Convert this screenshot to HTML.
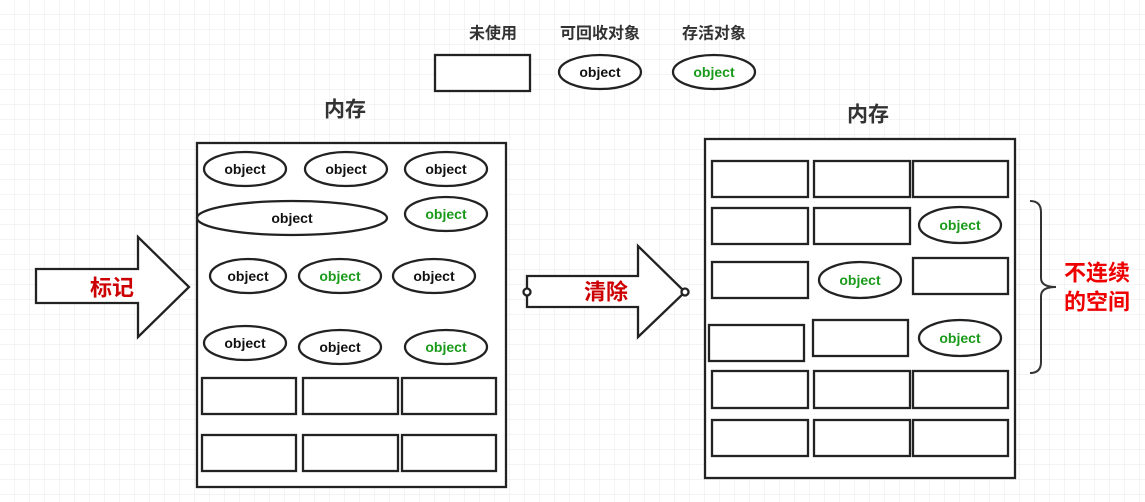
<!DOCTYPE html>
<html><head><meta charset="utf-8"><style>
html,body{margin:0;padding:0;background:#fff}
svg{display:block}
.o{font-family:"Liberation Sans",sans-serif;font-weight:bold;font-size:14px;text-anchor:middle;dominant-baseline:central}
.c{font-family:"Liberation Sans","Noto Sans CJK SC",sans-serif;font-weight:bold;text-anchor:middle;dominant-baseline:central}
</style></head><body>
<svg width="1145" height="502" xmlns="http://www.w3.org/2000/svg">
<defs><pattern id="g" width="15" height="15" patternUnits="userSpaceOnUse"><path d="M15 0V15H0" fill="none" stroke="#e9e9e9" stroke-width="1"/></pattern></defs>
<rect width="1145" height="502" fill="url(#g)"/>
<g fill="#fff" stroke="#222" stroke-width="2.3">
<rect x="435" y="55" width="95" height="36"/>
<ellipse cx="600" cy="72" rx="41" ry="17"/>
<ellipse cx="714" cy="72" rx="41" ry="17"/>
<rect x="197" y="143" width="309" height="344"/>
<ellipse cx="245" cy="169" rx="41" ry="17"/>
<ellipse cx="346" cy="169" rx="41" ry="17"/>
<ellipse cx="446" cy="169" rx="41" ry="17"/>
<ellipse cx="292" cy="218" rx="95" ry="17"/>
<ellipse cx="446" cy="214" rx="41" ry="17"/>
<ellipse cx="248" cy="276" rx="38" ry="17"/>
<ellipse cx="340" cy="276" rx="41" ry="17"/>
<ellipse cx="434" cy="276" rx="41" ry="17"/>
<ellipse cx="245" cy="343" rx="41" ry="17"/>
<ellipse cx="340" cy="347" rx="41" ry="17"/>
<ellipse cx="446" cy="347" rx="41" ry="17"/>
<rect x="202" y="378" width="94" height="36"/><rect x="303" y="378" width="95" height="36"/><rect x="402" y="378" width="94" height="36"/>
<rect x="202" y="435" width="94" height="36"/><rect x="303" y="435" width="95" height="36"/><rect x="402" y="435" width="94" height="36"/>
<path d="M36 269H138V237L189 287L138 337V303H36Z"/>
<path d="M527 276H638V246L685 292L638 337V307H527Z"/>
<circle cx="527" cy="292" r="3.5"/><circle cx="685" cy="292" r="3.5"/>
<rect x="705" y="139" width="310" height="339"/>
<rect x="712" y="161" width="96" height="36"/><rect x="814" y="161" width="96" height="36"/><rect x="913" y="161" width="95" height="36"/>
<rect x="712" y="208" width="96" height="36"/><rect x="814" y="208" width="96" height="36"/>
<ellipse cx="960" cy="225" rx="41" ry="18"/>
<rect x="712" y="262" width="96" height="36"/>
<ellipse cx="860" cy="280" rx="41" ry="18"/>
<rect x="913" y="258" width="95" height="36"/>
<rect x="709" y="325" width="95" height="36"/><rect x="813" y="320" width="95" height="36"/>
<ellipse cx="960" cy="338" rx="41" ry="18"/>
<rect x="712" y="371" width="96" height="37"/><rect x="814" y="371" width="96" height="37"/><rect x="913" y="371" width="95" height="37"/>
<rect x="712" y="420" width="96" height="36"/><rect x="814" y="420" width="96" height="36"/><rect x="913" y="420" width="95" height="36"/>
</g>
<path d="M1030 201Q1041 201 1041 212V278Q1041 287 1056 287Q1041 287 1041 296V362Q1041 373 1030 373" fill="none" stroke="#333" stroke-width="2"/>
<g class="o" fill="#111">
<text x="600" y="72">object</text>
<text x="245" y="169">object</text><text x="346" y="169">object</text><text x="446" y="169">object</text>
<text x="292" y="218">object</text>
<text x="248" y="276">object</text><text x="434" y="276">object</text>
<text x="245" y="343">object</text><text x="340" y="347">object</text>
</g>
<g class="o" fill="#1a9a1a">
<text x="714" y="72">object</text>
<text x="446" y="214">object</text><text x="340" y="276">object</text><text x="446" y="347">object</text>
<text x="960" y="225">object</text><text x="860" y="280">object</text><text x="960" y="338">object</text>
</g>
<g class="c" fill="#333" font-size="16">
<text x="493" y="34">未使用</text><text x="600" y="34">可回收对象</text><text x="714" y="34">存活对象</text>
</g>
<g class="c" fill="#333" font-size="21">
<text x="345" y="110">内存</text><text x="868" y="115">内存</text>
</g>
<g class="c" fill="#c00" font-size="22">
<text x="112" y="288">标记</text><text x="606" y="292">清除</text>
</g>
<g class="c" fill="#e00" font-size="22">
<text x="1097" y="273">不连续</text><text x="1097" y="302">的空间</text>
</g>
</svg>
</body></html>
